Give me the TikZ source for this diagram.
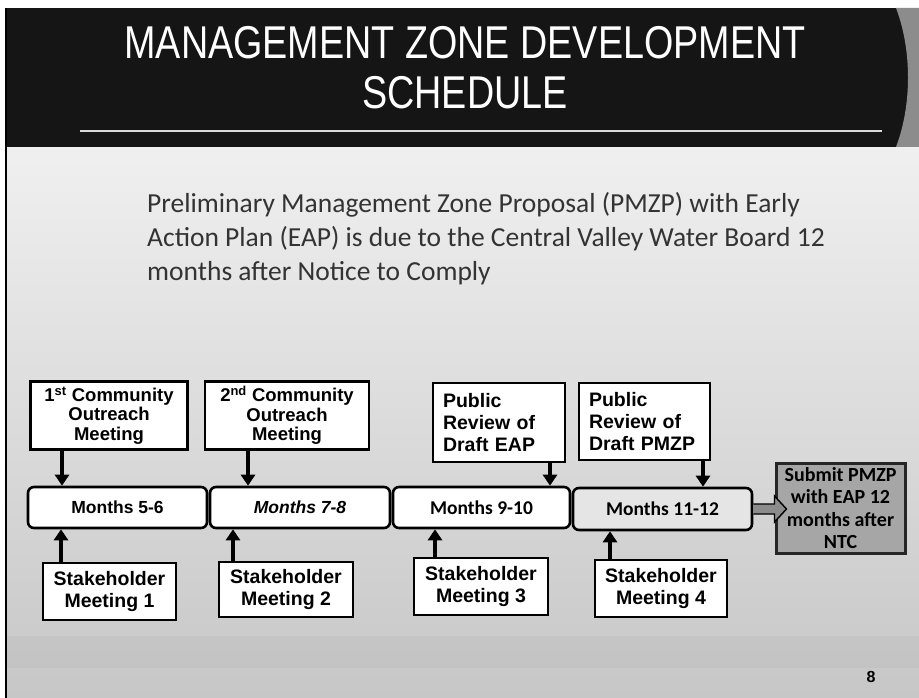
\documentclass[tikz,border=0pt]{standalone}
\usepackage{fontspec}
\setmainfont{Liberation Sans}
\newfontfamily\titlefont[FakeStretch=0.82]{Liberation Sans}
\newfontfamily\calfont{Carlito}
\usetikzlibrary{arrows.meta,calc}
\definecolor{band}{HTML}{151515}
\definecolor{bodytxt}{HTML}{333333}
\tikzset{
  boxline/.style={draw=black, line width=2.6pt, fill=white, inner sep=0pt},
  topbox/.style={boxline, align=center, font=\bfseries\fontsize{18.5}{19.5}\selectfont},
  pubbox/.style={boxline, align=left, font=\bfseries\fontsize{19.5}{22}\selectfont},
  stakebox/.style={boxline, align=center, font=\bfseries\fontsize{19.5}{21.5}\selectfont},
  monthbox/.style={boxline, rounded corners=6pt, minimum width=179pt, minimum height=41pt, font=\bfseries\fontsize{17.5}{19}\selectfont},
  subbox/.style={draw=black!85, line width=3pt, fill=black!35, inner sep=0pt, align=center, font=\calfont\bfseries\fontsize{20}{22.5}\selectfont},
  arr/.style={line width=3.6pt, -{Triangle[width=14pt,length=11pt]}},
}
\begin{document}
\begin{tikzpicture}[x=1pt,y=-1pt]
\useasboundingbox (0,0) rectangle (919,698);
% background
\fill[white] (0,0) rectangle (919,698);
\shade[top color=black!6, bottom color=black!22] (6,147) rectangle (919,698);
\fill[black!28, opacity=0.3] (6,636) rectangle (919,668);
% title band
\fill[band] (6,8) rectangle (919,147);
\fill[black!45] (919,8) -- (896,8) .. controls (912,50) and (912,105) .. (896,147) -- (919,147) -- cycle;
\draw[white!85!black, line width=1.6pt] (80,131) -- (882,131);
\draw[black, line width=1.5pt] (6,8) -- (6,698);
\node[text=white, font=\titlefont\fontsize{46}{50}\selectfont, align=center] (title) at (465,68)
  {MANAGEMENT ZONE DEVELOPMENT\\SCHEDULE};
% body text
\node[text=bodytxt, font=\calfont\fontsize{27.5}{34}\selectfont, align=left, anchor=north west, inner sep=0pt] (intro) at (147,192)
  {Preliminary Management Zone Proposal (PMZP) with Early\\
   Action Plan (EAP) is due to the Central Valley Water Board 12\\
   months after Notice to Comply};
% top boxes
\node[topbox, minimum width=157pt, minimum height=68pt] (c1) at (109,415.5) {1\textsuperscript{st} Community\\Outreach\\Meeting};
\node[topbox, minimum width=164pt, minimum height=68pt] (c2) at (287,415.5) {2\textsuperscript{nd} Community\\Outreach\\Meeting};
\node[pubbox, minimum width=132pt, minimum height=79pt, text width=112pt] (p1) at (499,422.5) {Public\\Review of\\Draft EAP};
\node[pubbox, minimum width=131pt, minimum height=77pt, text width=111pt] (p2) at (644.5,421.5) {Public\\Review of\\Draft PMZP};
% timeline
\node[monthbox] (t1) at (117.5,507.5) {Months 5-6};
\node[monthbox, minimum width=180pt] (t2) at (300,507.5) {\textit{Months 7-8}};
\node[monthbox, minimum width=177pt, font=\calfont\bfseries\fontsize{19.5}{21}\selectfont] (t3) at (481.5,507.5) {Months 9-10};
\node[monthbox, minimum height=42pt, fill=black!10, font=\calfont\bfseries\fontsize{19.5}{21}\selectfont] (t4) at (662.5,509) {Months 11-12};
% submit
\node[subbox, minimum width=129pt, minimum height=90pt] (sub) at (840.5,508) {Submit PMZP\\with EAP 12\\months after\\NTC};
% stakeholder boxes
\node[stakebox, minimum width=133pt, minimum height=57pt] (s1) at (109.5,591.5) {Stakeholder\\Meeting 1};
\node[stakebox, minimum width=134pt, minimum height=55pt] (s2) at (286,589.5) {Stakeholder\\Meeting 2};
\node[stakebox, minimum width=134pt, minimum height=57pt] (s3) at (481,586.5) {Stakeholder\\Meeting 3};
\node[stakebox, minimum width=132pt, minimum height=57pt] (s4) at (661,588.5) {Stakeholder\\Meeting 4};
% down arrows
\draw[arr] ([xshift=-47pt]c1.south) -- ([xshift=-47pt]c1.south |- t1.north);
\draw[arr] ([xshift=-39pt]c2.south) -- ([xshift=-39pt]c2.south |- t2.north);
\draw[arr] ([xshift=51pt]p1.south) -- ([xshift=51pt]p1.south |- t3.north);
\draw[arr] ([xshift=58.5pt]p2.south) -- ([xshift=58.5pt]p2.south |- t4.north);
% up arrows
\draw[arr] ([xshift=-48.5pt]s1.north) -- ([xshift=-48.5pt]s1.north |- t1.south);
\draw[arr] ([xshift=-53pt]s2.north) -- ([xshift=-53pt]s2.north |- t2.south);
\draw[arr] ([xshift=-46pt]s3.north) -- ([xshift=-46pt]s3.north |- t3.south);
\draw[arr] ([xshift=-51pt]s4.north) -- ([xshift=-51pt]s4.north |- t4.south);
% block arrow
\draw[fill=black!45, line width=1.4pt, line join=miter]
  ($(t4.east)+(0,-5)$) -- ($(sub.west |- t4.east)+(0,-5)$) -- ($(sub.west |- t4.east)+(0,-13)$)
  -- ($(sub.west |- t4.east)+(12,0)$) -- ($(sub.west |- t4.east)+(0,13)$)
  -- ($(sub.west |- t4.east)+(0,5)$) -- ($(t4.east)+(0,5)$);
% page number
\node[font=\bfseries\fontsize{16}{18}\selectfont] (pg) at (871,677) {8};
\end{tikzpicture}
\end{document}
